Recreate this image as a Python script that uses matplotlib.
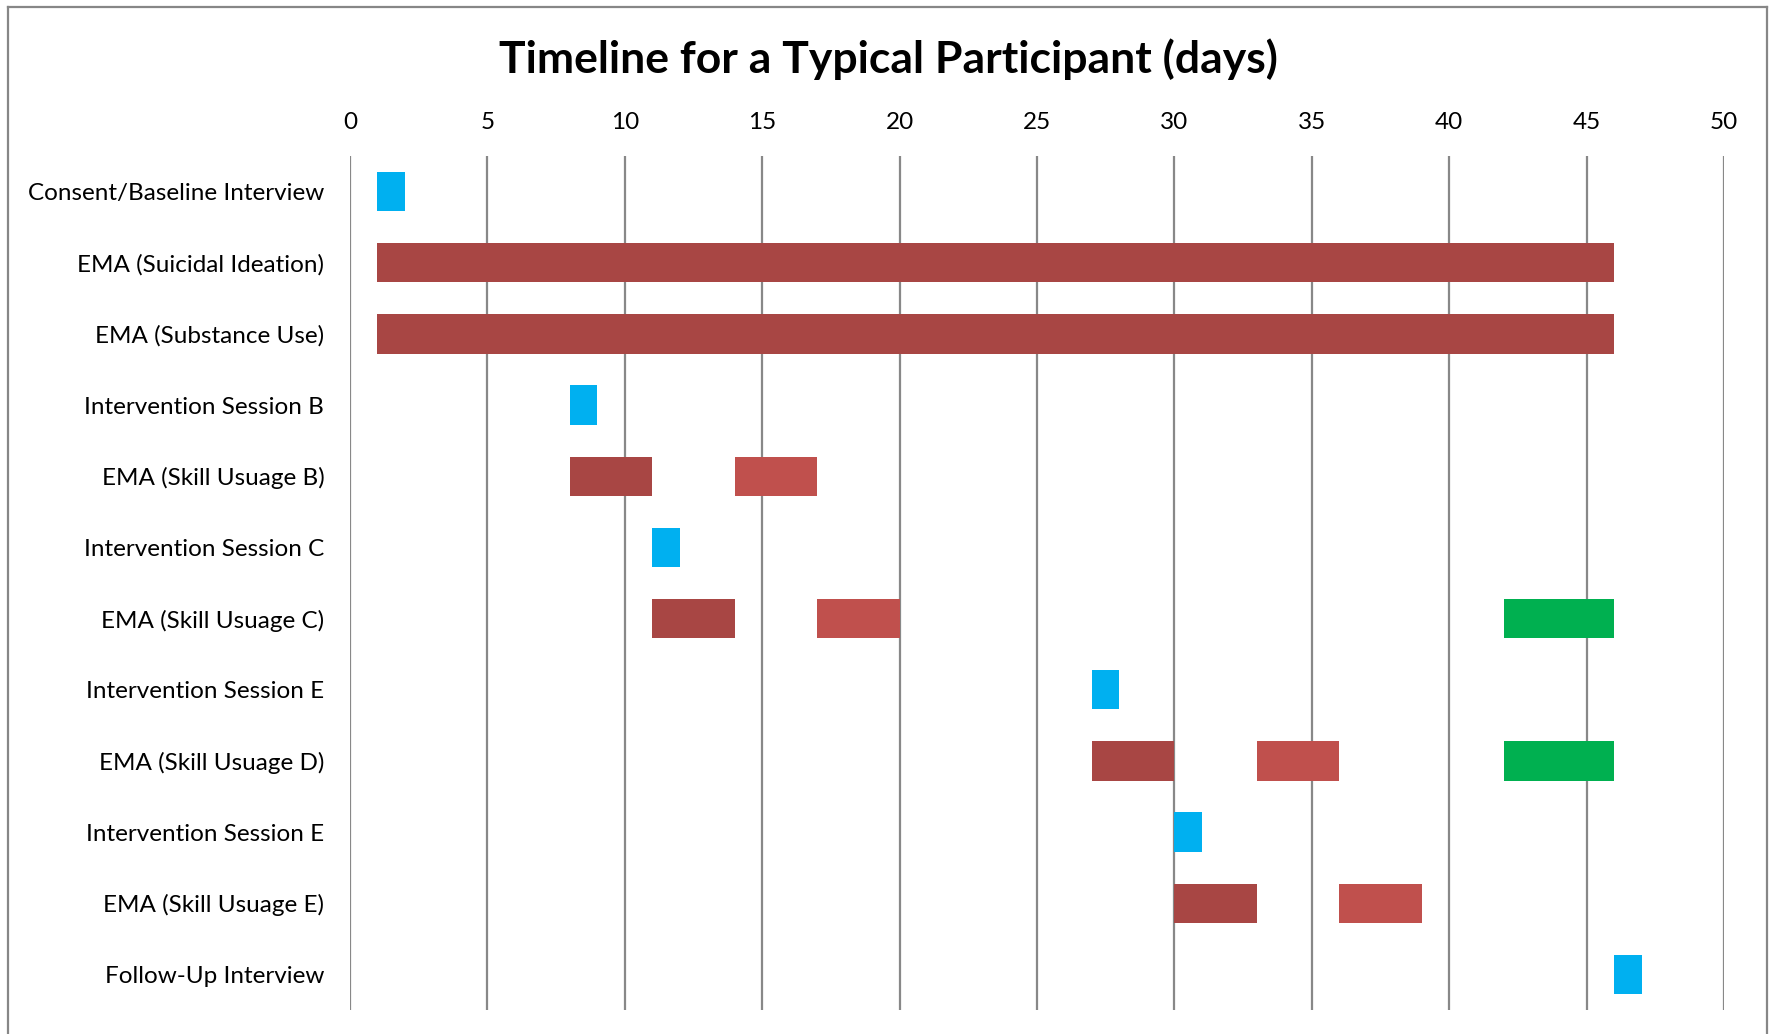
import matplotlib
matplotlib.use("Agg")
import matplotlib.pyplot as plt
from matplotlib.lines import Line2D

plt.rcParams["font.family"] = ["Lato", "DejaVu Sans"]

# Row labels, top to bottom
tasks = [
    "Consent/Baseline Interview",
    "EMA (Suicidal Ideation)",
    "EMA (Substance Use)",
    "Intervention Session B",
    "EMA (Skill Usuage B)",
    "Intervention Session C",
    "EMA (Skill Usuage C)",
    "Intervention Session E",
    "EMA (Skill Usuage D)",
    "Intervention Session E",
    "EMA (Skill Usuage E)",
    "Follow-Up Interview",
]

# Segments per phase: (row index, start day, duration in days)
sessions = [(0, 1, 1), (3, 8, 1), (5, 11, 1), (7, 27, 1), (9, 30, 1), (11, 46, 1)]
ema_primary = [(1, 1, 45), (2, 1, 45), (4, 8, 3), (6, 11, 3), (8, 27, 3), (10, 30, 3)]
ema_secondary = [(4, 14, 3), (6, 17, 3), (8, 33, 3), (10, 36, 3)]
ema_final = [(6, 42, 4), (8, 42, 4)]

x_ticks = [0, 5, 10, 15, 20, 25, 30, 35, 40, 45, 50]

colors = {
    "session": "#00B0F0",
    "primary": "#A84644",
    "secondary": "#C0504D",
    "final": "#00B050",
}

fig = plt.figure(figsize=(17.69, 10.34), dpi=100)
ax = fig.add_axes([350 / 1769, 1 - 1010 / 1034, (1724 - 350) / 1769, (1010 - 156) / 1034])

bar_h = 0.555
for segs, key in [(sessions, "session"), (ema_primary, "primary"),
                  (ema_secondary, "secondary"), (ema_final, "final")]:
    rows = [s[0] for s in segs]
    starts = [s[1] for s in segs]
    widths = [s[2] for s in segs]
    ax.barh(rows, widths, left=starts, height=bar_h, color=colors[key],
            edgecolor="none", zorder=3)

ax.set_xlim(0, 50)
ax.set_ylim(len(tasks) - 0.5, -0.5)
ax.set_xticks(x_ticks)
ax.set_yticks(range(len(tasks)))
ax.set_yticklabels(tasks)
ax.xaxis.tick_top()
ax.tick_params(axis="x", length=0, pad=16.5, labelsize=17.5)
ax.tick_params(axis="y", length=0, pad=18.5, labelsize=17.5)
for sp in ax.spines.values():
    sp.set_visible(False)
ax.grid(axis="x", color="#888888", linewidth=1.6, zorder=0)
ax.grid(axis="y", visible=False)

fig.text(888 / 1769, 1 - 59 / 1034, "Timeline for a Typical Participant (days)",
         ha="center", va="center", fontsize=32, fontweight="bold")

# Chart-area frame (left, top, right edges)
fx0, fx1 = 8 / 1769, 1767 / 1769
fy1 = 1 - 7 / 1034
frame_kw = dict(color="#878787", linewidth=1.6, transform=fig.transFigure)
fig.add_artist(Line2D([fx0, fx0], [0, fy1], **frame_kw))
fig.add_artist(Line2D([fx0, fx1], [fy1, fy1], **frame_kw))
fig.add_artist(Line2D([fx1, fx1], [0, fy1], **frame_kw))

fig.savefig("out.png", dpi=100, facecolor="white")
